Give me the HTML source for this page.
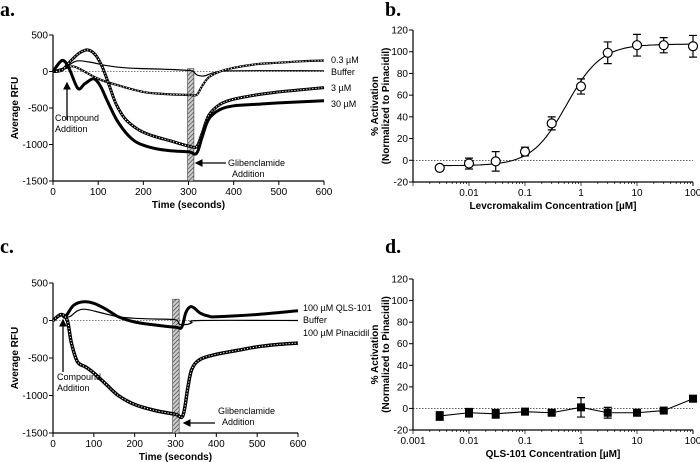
<!DOCTYPE html>
<html><head><meta charset="utf-8"><style>
body{margin:0;background:#fff}
svg{display:block;font-family:"Liberation Sans",sans-serif}
.tk{font-size:10px}
.lb{font-size:9px}
.tt{font-size:10px;font-weight:bold}
.pl{font-family:"Liberation Serif",serif;font-weight:bold;font-size:20px}
</style></head><body>
<svg id="fig" width="700" height="462" viewBox="0 0 700 462" xmlns="http://www.w3.org/2000/svg">
<defs><pattern id="hatch" patternUnits="userSpaceOnUse" width="3" height="3" patternTransform="rotate(45)"><rect width="3" height="3" fill="#ccc"/><line x1="0" y1="0" x2="0" y2="3" stroke="#333" stroke-width="1.2"/></pattern>
<marker id="ah" markerWidth="6" markerHeight="6" refX="5" refY="3" orient="auto"><path d="M0,0 L6,3 L0,6 z" fill="#000"/></marker></defs>
</svg>
<script>
// ---- Panel a data ----
const aTime03=[0,30,50,100,150,200,250,300,318,330,345,370,400,450,500,550,600];
const aVal03=[0,50,60,-100,-200,-280,-310,-320,-320,-200,-80,0,50,100,120,140,150];
const aTimeBuf=[0,20,50,80,120,160,200,250,300,310,320,335,360,400,600];
const aValBuf=[0,20,140,130,80,50,40,30,15,0,-50,-60,-10,10,10];
const aTime3=[0,20,40,60,78,95,110,125,140,160,190,220,260,300,318,330,345,370,400,450,500,550,600];
const aVal3=[0,20,150,260,295,220,50,-200,-450,-650,-800,-880,-950,-1020,-1030,-850,-600,-450,-380,-320,-280,-250,-220];
const aTime30=[0,20,35,55,70,90,105,120,140,160,180,200,230,260,300,318,330,345,370,400,450,500,600];
const aVal30=[0,150,50,-230,-170,-100,-200,-400,-650,-830,-950,-1010,-1060,-1085,-1100,-1120,-900,-650,-520,-470,-450,-430,-400];
// ---- Panel c data ----
const cTimeQ=[0,20,30,50,75,100,130,160,200,250,300,315,325,335,345,360,380,400,500,600];
const cValQ=[0,80,50,200,250,230,150,50,-20,-60,-90,-90,100,180,170,100,60,50,80,130];
const cTimeBuf=[0,20,40,60,80,120,160,200,250,300,310,330,340,360,600];
const cValBuf=[0,60,50,130,150,100,50,30,20,10,-50,-50,-30,0,0];
const cTimeP=[0,20,35,45,60,80,100,130,160,200,250,300,318,330,340,360,400,450,500,550,600];
const cValP=[0,80,0,-300,-550,-620,-700,-850,-1000,-1120,-1200,-1250,-1270,-900,-650,-520,-450,-400,-350,-320,-300];
// ---- Panel b data ----
const bConc=[0.003,0.01,0.03,0.1,0.3,1,3,10,30,100];
const bMean=[-7,-3,-1,8,34,68,99,106,106,105];
const bErr=[2,5,9,4,6,7,10,10,7,10];
// ---- Panel d data ----
const dConc=[0.003,0.01,0.03,0.1,0.3,1,3,10,30,100];
const dMean=[-7,-4,-5,-3,-4,1,-4,-4,-2,9];
const dErr=[4,4,4,3,2,9,5,1,1,3];
const timeTicks=[0,100,200,300,400,500,600];
const rfuTicks=[500,0,-500,-1000,-1500];
const actTicks=[120,100,80,60,40,20,0,-20];

const S=document.getElementById('fig');const NS='http://www.w3.org/2000/svg';
function mk(t,a,p){const e=document.createElementNS(NS,t);for(const k in a)e.setAttribute(k,a[k]);(p||S).appendChild(e);return e;}
function txt(x,y,s,cls,anchor,p){const e=mk('text',{x:x,y:y,class:cls,'text-anchor':anchor||'start'},p);e.textContent=s;return e;}
function smooth(P){let d=`M${P[0][0].toFixed(1)},${P[0][1].toFixed(1)}`;
  for(let i=0;i<P.length-1;i++){const p0=P[i-1]||P[i],p1=P[i],p2=P[i+1],p3=P[i+2]||p2;
    const c1=[p1[0]+(p2[0]-p0[0])/6,p1[1]+(p2[1]-p0[1])/6],c2=[p2[0]-(p3[0]-p1[0])/6,p2[1]-(p3[1]-p1[1])/6];
    d+=` C${c1[0].toFixed(1)},${c1[1].toFixed(1)} ${c2[0].toFixed(1)},${c2[1].toFixed(1)} ${p2[0].toFixed(1)},${p2[1].toFixed(1)}`;}
  return d;}

function timePanel(name,x0,x1,y500,yN1500,hatch,series,labels,ann){
  const g=mk('g',{});
  
  
  const X=t=>x0+(x1-x0)*t/600, Y=v=>y500+(yN1500-y500)*(500-v)/2000;
  const ax=mk('path',{d:`M${x0},${Y(500)} V${Y(-1500)} H${x1}`,stroke:'#000',fill:'none','stroke-width':1.2},g);
  
  
  timeTicks.forEach(t=>{mk('line',{x1:X(t),x2:X(t),y1:Y(-1500),y2:Y(-1500)+4,stroke:'#000'},g);txt(X(t),Y(-1500)+14,String(t),'tk','middle',g);});
  rfuTicks.forEach(v=>{mk('line',{x1:x0-4,x2:x0,y1:Y(v),y2:Y(v),stroke:'#000'},g);txt(x0-5,Y(v)+3.5,String(v),'tk','end',g);});
  mk('line',{x1:x0,x2:x1,y1:Y(0),y2:Y(0),stroke:'#000','stroke-width':0.6,'stroke-dasharray':'1.5,1.5'},g);
  const hb=mk('rect',{x:X(hatch[0]),y:Y(hatch[1]),width:X(hatch[2])-X(hatch[0]),height:Y(-1500)-Y(hatch[1]),fill:'url(#hatch)',stroke:'#333','stroke-width':0.6},g);
  
  
  series.forEach(s=>{
    const d=smooth(s.t.map((t,i)=>[X(t),Y(s.v[i])]));
    const p=mk('path',{d:d,fill:'none',stroke:'#000','stroke-width':s.w,'stroke-linejoin':'round'},g);
    
    
    if(s.dots){mk('path',{d:d,fill:'none',stroke:'#fff','stroke-width':1,'stroke-dasharray':'1.2,1.8'},g);}
  });
  labels.forEach(l=>{const e=txt(l[0],l[1],l[2],'lb','start',g);});
  mk('line',{x1:ann.cx,y1:ann.cy1,x2:ann.cx,y2:ann.cy2,stroke:'#000','stroke-width':1.3,'marker-end':'url(#ah)'},g);
  txt(ann.ctx,ann.cty,'Compound','lb','start',g);txt(ann.ctx,ann.cty+11,'Addition','lb','start',g);
  mk('line',{x1:ann.gx1,y1:ann.gy,x2:ann.gx2,y2:ann.gy,stroke:'#000','stroke-width':1.3,'marker-end':'url(#ah)'},g);
  txt(ann.gtx,ann.gty,'Glibenclamide','lb','start',g);txt(ann.gtx+4,ann.gty+11,'Addition','lb','start',g);
  const yt=txt(0,0,'Average RFU','tt','middle',g);yt.setAttribute('transform',`translate(${x0-35},${(Y(500)+Y(-1500))/2}) rotate(-90)`);
  
  const xt=txt((x0+x1)/2,Y(-1500)+27,'Time (seconds)','tt','middle',g);
  
}
function logPanel(name,x0,x1,y120,yN20,conc,mean,err,filled,xTicks,xtitle,curve){
  const g=mk('g',{});
  
  
  const X=c=>x0+(x1-x0)*(Math.log10(c)+3)/5, Y=v=>y120+(yN20-y120)*(120-v)/140;
  mk('path',{d:`M${x0},${Y(120)} V${Y(-20)} H${x1}`,stroke:'#000',fill:'none','stroke-width':1.2},g);
  actTicks.forEach(v=>{mk('line',{x1:x0-4,x2:x0,y1:Y(v),y2:Y(v),stroke:'#000'},g);txt(x0-5,Y(v)+3.5,String(v),'tk','end',g);});
  for(let e=-3;e<2;e++)for(let m=1;m<10;m++){const c=m*Math.pow(10,e);mk('line',{x1:X(c),x2:X(c),y1:Y(-20),y2:Y(-20)+(m==1?4:2),stroke:'#000','stroke-width':0.7},g);}
  mk('line',{x1:X(100),x2:X(100),y1:Y(-20),y2:Y(-20)+4,stroke:'#000'},g);
  xTicks.forEach(t=>txt(X(t),Y(-20)+14,String(t),'tk','middle',g));
  mk('line',{x1:x0,x2:x1,y1:Y(0),y2:Y(0),stroke:'#000','stroke-width':0.6,'stroke-dasharray':'1.5,1.5'},g);
  if(curve){let d='';for(let i=0;i<=100;i++){const lc=Math.log10(0.003)+i*(Math.log10(100)-Math.log10(0.003))/100;const c=Math.pow(10,lc);const v=-5+(107+5)/(1+Math.pow(0.55/c,1.4));d+=(i?'L':'M')+X(c).toFixed(1)+','+Y(v).toFixed(1);}
    const p=mk('path',{d:d,fill:'none',stroke:'#000','stroke-width':1.1},g);}
  else{const d=conc.map((c,i)=>(i?'L':'M')+X(c)+','+Y(mean[i])).join(' ');const p=mk('path',{d:d,fill:'none',stroke:'#000','stroke-width':1.1},g);}
  conc.forEach((c,i)=>{
    const x=X(c);
    const eb=mk('path',{d:`M${x},${Y(mean[i]+err[i])} V${Y(mean[i]-err[i])} M${x-4},${Y(mean[i]+err[i])} h8 M${x-4},${Y(mean[i]-err[i])} h8`,stroke:'#000','stroke-width':1.2,fill:'none'},g);
    
    let m;
    if(filled)m=mk('rect',{x:x-4,y:Y(mean[i])-4,width:8,height:8,fill:'#000'},g);
    else m=mk('circle',{cx:x,cy:Y(mean[i]),r:4.5,fill:'#fff',stroke:'#000','stroke-width':1.2},g);
    
  });
  const yt=txt(0,0,'% Activation','tt','middle',g);yt.setAttribute('transform',`translate(${x0-35},${(Y(120)+Y(-20))/2}) rotate(-90)`);
  
  const yt2=txt(0,0,'(Normalized to Pinacidil)','tt','middle',g);yt2.setAttribute('transform',`translate(${x0-24},${(Y(120)+Y(-20))/2}) rotate(-90)`);
  
  const xt=txt((x0+x1)/2,Y(-20)+27,xtitle,'tt','middle',g);
  
}
timePanel('panel-a',53,324,35,181,[298,38,312],[
 {t:aTimeBuf,v:aValBuf,w:1.2,name:'buffer-trace'},
 {t:aTime03,v:aVal03,w:2.2,dots:true,name:'trace-0.3uM'},
 {t:aTime3,v:aVal3,w:3,dots:true,name:'trace-3uM'},
 {t:aTime30,v:aVal30,w:3,name:'trace-30uM'}],
 [[331,63,'0.3 µM'],[331,75,'Buffer'],[331,91,'3 µM'],[331,107,'30 µM']],
 {cx:67,cy1:120,cy2:83,ctx:55,cty:121,gx1:226,gx2:196,gy:163,gtx:228,gty:166});
timePanel('panel-c',53,298,283,433,[293,284,309],[
 {t:cTimeBuf,v:cValBuf,w:1.2,name:'buffer-trace'},
 {t:cTimeQ,v:cValQ,w:3,name:'trace-qls101'},
 {t:cTimeP,v:cValP,w:3.5,dots:true,name:'trace-pinacidil'}],
 [[303,311,'100 µM QLS-101'],[303,323,'Buffer'],[303,336,'100 µM Pinacidil']],
 {cx:63,cy1:372,cy2:320,ctx:57,cty:380,gx1:215,gx2:184,gy:423,gtx:218,gty:414});
logPanel('panel-b',413,693,30,182,bConc,bMean,bErr,false,[0.01,0.1,1,10,100],'Levcromakalim Concentration [µM]',true);
logPanel('panel-d',413,693,279,430,dConc,dMean,dErr,true,[0.001,0.01,0.1,1,10,100],'QLS-101 Concentration  [µM]',false);
[['a.',0,16],['b.',385,16],['c.',0,253],['d.',385,253]].forEach(l=>{const e=txt(l[1],l[2],l[0],'pl','start');});
</script>
</body></html>
